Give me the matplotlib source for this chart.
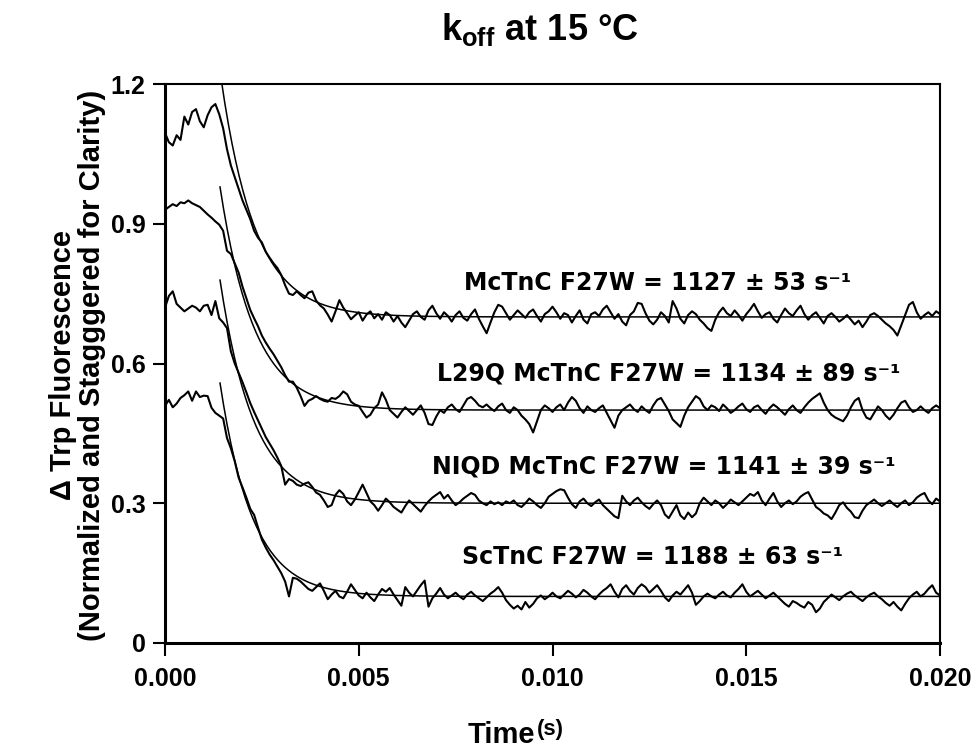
import numpy as np
import matplotlib
matplotlib.use('Agg')
import matplotlib.pyplot as plt

plt.rcParams['font.family'] = ['Liberation Sans', 'DejaVu Sans']
plt.rcParams['font.weight'] = 'bold'
plt.rcParams['mathtext.fontset'] = 'custom'
plt.rcParams['mathtext.bf'] = 'Liberation Sans:bold'
plt.rcParams['mathtext.rm'] = 'Liberation Sans:bold'

### Stopped-flow traces, sampled every 0.1 ms (values x1000) ###
dt = 0.0001
trace_mctnc = [
    1095, 1075, 1068, 1090, 1080, 1130, 1113, 1140, 1146, 1120,
    1107, 1133, 1150, 1157, 1135, 1105, 1060, 1025, 1000, 975,
    950, 930, 910, 885, 870, 860, 840, 827, 815, 805,
    790, 768, 750, 747, 755, 747, 740, 752, 755, 735,
    725, 718, 705, 690, 712, 736, 720, 708, 695, 703,
    710, 692, 705, 712, 697, 706, 694, 710, 704, 690,
    702, 688, 678, 692, 706, 712, 700, 694, 714, 724,
    708, 696, 710, 702, 690, 704, 712, 698, 692, 706,
    716, 696, 680, 665, 688, 710, 726, 722, 708, 694,
    704, 714, 706, 698, 710, 716, 702, 690, 706, 712,
    722, 710, 696, 708, 704, 688, 702, 714, 694, 686,
    706, 710, 702, 716, 724, 710, 696, 706, 690, 682,
    704, 712, 730, 728, 708, 692, 684, 694, 710, 702,
    688, 734, 718, 696, 686, 704, 712, 706, 694, 686,
    676, 670, 694, 710, 720, 708, 702, 714, 704, 692,
    706, 716, 728, 712, 698, 706, 710, 696, 688, 704,
    718, 708, 702, 714, 724, 706, 694, 704, 710, 698,
    686, 702, 708, 700, 690, 696, 704, 694, 684, 692,
    678, 690, 704, 708, 702, 694, 686, 680, 672, 660,
    682, 704, 726, 732, 710, 696, 704, 710, 702, 712,
    706]
trace_l29q = [
    930, 936, 942, 938, 946, 944, 950, 944, 940, 936,
    928, 920, 913, 905, 898, 885, 842, 835, 815, 795,
    765, 740, 715, 697, 680, 660, 645, 632, 620, 606,
    592, 575, 561, 561, 548, 530, 509, 520, 524, 530,
    524, 520, 518, 526, 524, 530, 540, 534, 518, 512,
    509, 496, 484, 490, 504, 512, 538, 522, 500, 492,
    484, 496, 506, 498, 490, 500, 510, 494, 470, 468,
    486, 500, 494, 506, 512, 502, 496, 510, 524, 528,
    520, 510, 506, 512, 504, 498, 508, 514, 500, 494,
    506, 500, 488, 480, 470, 452, 476, 500, 510, 504,
    496, 506, 512, 500, 516, 528, 520, 504, 494, 508,
    500, 496, 504, 510, 494, 478, 462, 488, 500, 506,
    512, 502, 496, 508, 500, 494, 510, 522, 526, 512,
    498, 480, 472, 464, 488, 506, 518, 530, 524, 508,
    500, 510, 506, 498, 512, 504, 494, 500, 508, 514,
    502, 496, 506, 510, 500, 492, 504, 512, 506, 498,
    490, 502, 510, 500, 494, 506, 516, 524, 530, 536,
    516, 500, 490, 484, 480, 476, 488, 506, 520, 526,
    500, 484, 480, 494, 508, 500, 488, 480, 490, 504,
    516, 520, 506, 496, 500, 508, 500, 494, 504, 510,
    504]
trace_niqd = [
    720, 745, 755, 728, 720, 712, 718, 724, 720, 712,
    724, 726, 704, 734, 697, 688, 676, 626, 600, 580,
    560, 538, 515, 496, 478, 460, 442, 428, 414, 398,
    380, 340, 352, 348, 340, 337, 342, 345, 335, 323,
    318, 306, 292, 296, 318, 328, 320, 304, 296, 308,
    324, 340, 322, 304, 296, 284, 296, 310, 302, 292,
    286, 280, 294, 306, 298, 290, 282, 294, 304, 312,
    318, 324, 310, 318, 306, 296, 302, 310, 316, 322,
    318, 306, 300, 296, 304, 298, 302, 296, 304, 300,
    306, 296, 292, 300, 310, 304, 296, 290, 300, 314,
    320, 326, 330, 328, 312, 298, 290, 304, 310, 300,
    294, 302, 308, 296, 288, 280, 272, 268, 316, 304,
    296, 306, 312, 302, 294, 288, 298, 306, 296, 276,
    268, 282, 296, 274, 266, 280, 270, 278, 300, 312,
    304, 296, 306, 300, 290, 298, 308, 302, 296, 304,
    312, 320, 316, 324, 306, 296, 310, 322, 304, 292,
    300, 306, 298, 304, 314, 320, 324, 308, 292, 286,
    278, 274, 266, 280, 296, 302, 290, 282, 270, 268,
    284, 296, 302, 308, 300, 294, 300, 306, 298, 292,
    300, 306, 296, 302, 312, 318, 322, 306, 298, 310,
    304]
trace_sctnc = [
    509, 522, 506, 514, 526, 532, 540, 520, 540, 528,
    531, 530, 505, 494, 488, 482, 440, 418, 390, 355,
    334, 312, 288, 275, 248, 222, 205, 190, 178, 164,
    150, 132, 100, 140, 138, 132, 124, 116, 112, 120,
    128, 112, 94, 104, 112, 100, 96, 110, 126, 114,
    102, 96, 108, 98, 90, 104, 116, 110, 118, 104,
    92, 80, 120, 108, 100, 112, 124, 134, 78, 96,
    106, 118, 104, 96, 102, 108, 100, 94, 104, 110,
    102, 96, 90, 98, 106, 112, 120, 108, 92, 82,
    74, 80, 72, 88, 76, 84, 96, 102, 94, 100,
    108, 100, 96, 104, 112, 106, 98, 104, 114, 108,
    100, 94, 104, 112, 118, 126, 110, 98, 116, 124,
    112, 104, 118, 126, 120, 108, 116, 124, 112, 98,
    90, 102, 110, 104, 114, 124, 108, 82, 90, 100,
    106, 100, 96, 104, 110, 102, 98, 108, 116, 126,
    110, 100, 106, 112, 104, 96, 102, 108, 100, 92,
    84, 78, 90, 86, 80, 76, 88, 82, 66, 74,
    88, 96, 104, 98, 92, 100, 106, 110, 102, 96,
    90, 98, 104, 108, 100, 94, 86, 80, 88, 78,
    70, 84, 96, 104, 110, 100, 106, 116, 124, 108,
    102]
traces = [trace_mctnc, trace_l29q, trace_niqd, trace_sctnc]

### Single exponential fits ###
labels = ['McTnC F27W = 1127 \u00b1 53 s\u207b\u00b9',
          'L29Q McTnC F27W = 1134 \u00b1 89 s\u207b\u00b9',
          'NIQD McTnC F27W = 1141 \u00b1 39 s\u207b\u00b9',
          'ScTnC F27W = 1188 \u00b1 63 s\u207b\u00b9']
k_off = [1127, 1134, 1141, 1188]      # s^-1
fit_base = [0.70, 0.50, 0.30, 0.10]
fit_t0 = [0.00145, 0.00142, 0.00142, 0.00142]
fit_y0 = [1.21, 0.979, 0.779, 0.558]
label_x = [0.0127, 0.0130, 0.01288, 0.01259]
label_y = [0.773, 0.5775, 0.378, 0.185]

fig = plt.figure(figsize=(9.76, 7.55), dpi=100)
ax = fig.add_axes([165/976, 1-643/755, 775/976, 559/755])

for i in range(len(traces)):
    y = np.array(traces[i])/1000.
    t = np.arange(len(y))*dt
    ax.plot(t, y, color='black', lw=1.5)
    tf = np.linspace(fit_t0[i], 0.02, 400)
    yf = fit_base[i] + (fit_y0[i]-fit_base[i])*np.exp(-k_off[i]*(tf-fit_t0[i]))
    ax.plot(tf, yf, color='black', lw=1.1)
    ax.text(label_x[i], label_y[i], labels[i], ha='center', va='center',
            fontsize=17, fontweight='bold', family='DejaVu Sans')

ax.set_xlim(0, 0.02)
ax.set_ylim(0, 1.2)
ax.set_xticks([0, 0.005, 0.010, 0.015, 0.020])
ax.set_xticklabels(['0.000', '0.005', '0.010', '0.015', '0.020'])
ax.set_yticks([0, 0.3, 0.6, 0.9, 1.2])
ax.set_yticklabels(['0', '0.3', '0.6', '0.9', '1.2'])
ax.tick_params(direction='out', length=9, width=1.5, labelsize=18)
ax.tick_params(axis='x', pad=8)
ax.tick_params(axis='y', pad=5)
for side in ['left', 'bottom']:
    ax.spines[side].set_linewidth(2.2)
for side in ['top', 'right']:
    ax.spines[side].set_linewidth(1.5)

fig.text(540/976, 1-30/755, r'k$_{\mathbf{off}}$ at 15 °C', ha='center', va='center',
         fontsize=26, fontweight='bold')
fig.text(535/976, 1-735/755, 'Time', ha='right', va='center', fontsize=21, fontweight='bold')
fig.text(537/976, 1-730/755, '(s)', ha='left', va='center', fontsize=16, fontweight='bold')
fig.text(63/976, 1-365/755, '\u0394 Trp Fluorescence', rotation=90, ha='center', va='center',
         fontsize=21, fontweight='bold')
fig.text(92/976, 1-365/755, '(Normalized and Stagggered for Clarity)', rotation=90,
         ha='center', va='center', fontsize=21, fontweight='bold')

plt.savefig('out.png', dpi=100)
